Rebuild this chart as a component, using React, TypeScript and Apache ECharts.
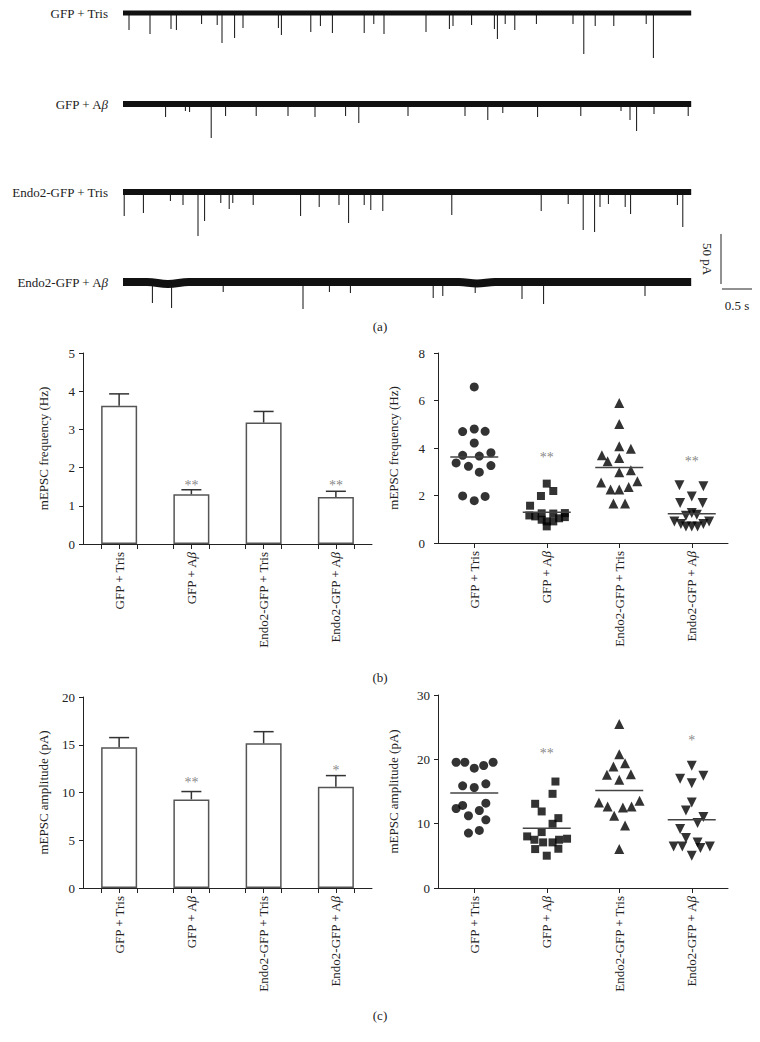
import React, { useEffect, useRef } from "react";
import * as echarts from "echarts";

const FONT = '"Liberation Serif", "Times New Roman", serif';

// ---------- data ----------
const groups = ["GFP + Tris", "GFP + Aβ", "Endo2-GFP + Tris", "Endo2-GFP + Aβ"];

// (a) traces: spikes as [time (s), amplitude (pA, downward)]
const traceDuration = 9.47;
const spikes1 = [[0.10,17],[0.45,21],[0.80,16],[0.89,17],[1.31,11],[1.57,12],[1.65,30],[1.86,25],[2.00,15],[2.59,15],[2.64,22],[3.13,19],[3.29,13],[3.49,20],[4.02,20],[4.18,11],[4.35,21],[5.05,19],[5.44,16],[5.50,13],[5.81,12],[6.19,16],[6.24,26],[6.37,11],[6.53,17],[6.89,11],[7.50,11],[7.68,41],[7.87,13],[8.18,13],[8.72,11],[8.84,45]];
const spikes2 = [[0.71,13],[1.04,7],[1.11,8],[1.47,34],[1.71,12],[2.22,12],[2.75,12],[3.20,13],[3.71,12],[3.93,19],[4.75,12],[5.70,12],[6.08,16],[6.33,9],[6.91,13],[7.63,12],[8.30,7],[8.45,16],[8.56,27],[8.85,10],[9.42,12]];
const spikes3 = [[0.02,24],[0.34,21],[0.79,9],[1.00,13],[1.25,44],[1.36,29],[1.63,11],[1.77,17],[1.83,11],[2.17,13],[2.96,24],[3.27,15],[3.60,13],[3.76,31],[4.02,13],[4.13,18],[4.33,19],[5.48,23],[6.97,19],[7.42,12],[7.67,38],[7.86,40],[7.95,15],[8.09,12],[8.37,15],[8.46,22],[9.24,13],[9.33,35]];
const spikes4 = [[0.49,21],[0.81,26],[1.67,10],[3.00,27],[3.44,10],[3.79,11],[5.17,16],[5.33,14],[5.87,11],[6.65,17],[7.01,22],[8.70,14]];
// baseline drift [time, pA]
const baseline1 = [[0,0],[9.47,0]];
const baseline2 = [[0,0],[9.47,0]];
const baseline3 = [[0,0],[9.47,0]];
const baseline4 = [[0,0],[0.4,0],[0.75,-2],[1.1,0],[5.6,0],[5.9,-1.5],[6.2,0],[9.47,0]];
const noiseWidth = [5, 6, 6, 8];
const scaleBarPA = 50;
const scaleBarS = 0.5;

// (b) frequency
const freqMean = [3.62, 1.30, 3.18, 1.23];
const freqSem = [0.31, 0.12, 0.29, 0.15];
const freqStars = ["", "**", "", "**"];
const freqStarBarY = [0, 1.63, 0, 1.63];
const freqStarDotY = [0, 3.75, 0, 3.58];
const freqG1 = [[0.50,6.57],[0.34,4.69],[0.50,4.80],[0.65,4.70],[0.50,4.21],[0.34,3.69],[0.57,3.66],[0.73,3.80],[0.25,3.37],[0.42,3.23],[0.73,3.26],[0.57,2.98],[0.34,1.98],[0.50,1.78],[0.65,1.96]];
const freqG2 = [[1.50,2.50],[1.59,2.19],[1.42,1.98],[1.27,1.57],[1.26,1.16],[1.34,1.12],[1.43,1.25],[1.43,0.98],[1.50,0.91],[1.50,0.70],[1.59,1.24],[1.59,0.91],[1.67,1.04],[1.75,1.26],[1.75,1.09]];
const freqG3 = [[2.50,5.89],[2.50,5.01],[2.50,4.07],[2.66,3.97],[2.26,3.69],[2.34,3.44],[2.50,3.58],[2.50,2.98],[2.66,3.06],[2.25,2.55],[2.75,2.60],[2.38,2.25],[2.50,2.25],[2.63,2.36],[2.42,1.66],[2.58,1.66]];
const freqG4 = [[3.33,2.43],[3.66,2.39],[3.50,1.96],[3.34,1.68],[3.65,1.68],[3.50,1.26],[3.57,1.19],[3.42,1.15],[3.26,0.91],[3.35,0.80],[3.42,0.70],[3.50,0.70],[3.58,0.70],[3.66,0.80],[3.74,0.91]];

// (c) amplitude
const ampMean = [14.75, 9.28, 15.15, 10.6];
const ampSem = [1.0, 0.82, 1.22, 1.17];
const ampStars = ["", "**", "", "*"];
const ampStarBarY = [0, 11.5, 0, 12.7];
const ampStarDotY = [0, 21.6, 0, 23.6];
const ampG1 = [[0.25,19.55],[0.37,19.55],[0.50,18.62],[0.63,19.04],[0.76,19.55],[0.34,15.88],[0.50,15.62],[0.66,16.19],[0.25,12.36],[0.34,12.83],[0.66,13.19],[0.42,11.23],[0.57,12.05],[0.66,10.60],[0.42,8.54],[0.57,8.95]];
const ampG2 = [[1.62,16.55],[1.58,14.64],[1.34,13.09],[1.43,11.90],[1.66,10.86],[1.58,9.98],[1.43,8.69],[1.23,8.02],[1.33,7.50],[1.45,7.09],[1.58,7.09],[1.67,7.50],[1.78,7.66],[1.34,6.05],[1.66,6.10],[1.50,5.02]];
const ampG3 = [[2.50,25.5],[2.50,20.8],[2.42,18.88],[2.58,19.4],[2.33,17.59],[2.66,17.69],[2.50,16.81],[2.22,13.29],[2.78,13.55],[2.34,12.67],[2.55,12.52],[2.67,12.67],[2.43,11.23],[2.58,9.73],[2.50,6.05]];
const ampG4 = [[3.50,19.0],[3.34,16.97],[3.50,16.3],[3.66,17.43],[3.50,13.29],[3.42,12.05],[3.66,11.02],[3.58,10.09],[3.34,9.16],[3.42,7.76],[3.25,6.47],[3.37,6.47],[3.58,7.09],[3.75,6.47],[3.62,6.21],[3.50,5.02]];

// ---------- layout ----------
const traceBaseY = [13, 104, 192, 282];
const traceLeft = 123;
const pxPerSec = 60;
const pxPerPA = 1;

const INK = "#222";
const rich = { i: { fontStyle: "italic", fontFamily: FONT, fontSize: 13, color: INK } };
const fmtGroup = (s: string) => s.replace("β", "{i|β}");

function App() {
  const ref = useRef<HTMLDivElement>(null);
  useEffect(() => {
    if (!ref.current) return;
    const chart = echarts.init(ref.current, null, { renderer: "svg" });

    const spikes = [spikes1, spikes2, spikes3, spikes4];
    const baselines = [baseline1, baseline2, baseline3, baseline4];

    const grids: any[] = traceBaseY.map((b) => ({
      left: traceLeft, top: b - 10, width: traceDuration * pxPerSec, height: 60,
    }));
    grids.push(
      { left: 83, top: 353, width: 289, height: 191 },
      { left: 438, top: 353, width: 290, height: 190 },
      { left: 83, top: 697, width: 289, height: 191 },
      { left: 438, top: 695, width: 290, height: 193 }
    );
    grids.forEach((g) => { g.containLabel = false; g.outerBoundsMode = "none"; });

    const xAxes: any[] = traceBaseY.map((_, i) => ({
      type: "value", gridIndex: i, min: 0, max: traceDuration, show: false,
    }));
    const yAxes: any[] = traceBaseY.map((_, i) => ({
      type: "value", gridIndex: i, min: -50, max: 10, show: false,
    }));

    const barTicks = [0.25, 0.5, 0.75, 1.25, 1.5, 1.75, 2.25, 2.5, 2.75, 3.25, 3.5, 3.75];
    const centers = [0.5, 1.5, 2.5, 3.5];
    const catX = (gi: number, ticks: number[]) => ({
      type: "value", gridIndex: gi, min: 0, max: 4,
      axisLine: { show: true, lineStyle: { color: INK, width: 1 } },
      axisTick: { show: true, customValues: ticks, length: 5, lineStyle: { color: INK, width: 1 } },
      axisLabel: {
        customValues: centers, rotate: 90, margin: 8, color: INK, fontFamily: FONT, fontSize: 13,
        formatter: (v: number) => fmtGroup(groups[Math.min(3, Math.floor(v))]), rich,
      },
      splitLine: { show: false },
    });
    const valY = (gi: number, max: number, interval: number, name: string, margin: number, gap: number) => ({
      type: "value", gridIndex: gi, min: 0, max, interval,
      axisLine: { show: true, lineStyle: { color: INK, width: 1 } },
      axisTick: { show: true, length: 4, lineStyle: { color: INK, width: 1 } },
      axisLabel: { margin, color: INK, fontFamily: FONT, fontSize: 13 },
      splitLine: { show: false },
      name, nameLocation: "middle", nameGap: gap,
      nameTextStyle: { color: INK, fontFamily: FONT, fontSize: 13 },
    });
    xAxes.push(catX(4, barTicks), catX(5, centers), catX(6, barTicks), catX(7, centers));
    yAxes.push(
      valY(4, 5, 1, "mEPSC frequency (Hz)", 8, 33),
      valY(5, 8, 2, "mEPSC frequency (Hz)", 13, 38),
      valY(6, 20, 5, "mEPSC amplitude (pA)", 8, 33),
      valY(7, 30, 10, "mEPSC amplitude (pA)", 8, 38)
    );

    const series: any[] = [];
    // traces
    baselines.forEach((bl, i) => {
      series.push({
        type: "line", xAxisIndex: i, yAxisIndex: i, data: bl, symbol: "none", silent: true,
        smooth: 0.4, lineStyle: { width: noiseWidth[i], color: "#111", join: "round" }, clip: false,
      });
      series.push({
        type: "custom", xAxisIndex: i, yAxisIndex: i, data: spikes[i], silent: true, clip: false,
        renderItem: (_p: any, api: any) => {
          const t = api.value(0), a = api.value(1);
          const p0 = api.coord([t, 0]);
          const p1 = api.coord([t, -a]);
          return { type: "line", shape: { x1: p0[0], y1: p0[1], x2: p1[0], y2: p1[1] }, style: { stroke: "#111", lineWidth: 1 } };
        },
      });
    });

    const barSet = (gi: number, mean: number[], sem: number[], stars: string[], starY: number[]) => {
      series.push({
        type: "bar", xAxisIndex: gi, yAxisIndex: gi, barWidth: 36, silent: true,
        data: mean.map((m, i) => [i + 0.5, m]),
        itemStyle: { color: "#fff", borderColor: "#555", borderWidth: 1.5 },
      });
      series.push({
        type: "custom", xAxisIndex: gi, yAxisIndex: gi, z: 4, silent: true,
        data: mean.map((m, i) => [i + 0.5, m, sem[i]]),
        renderItem: (_p: any, api: any) => {
          const x = api.value(0), m = api.value(1), s = api.value(2);
          const p0 = api.coord([x, m]);
          const p1 = api.coord([x, m + s]);
          const st = { stroke: "#333", lineWidth: 1.5 };
          return {
            type: "group", children: [
              { type: "line", shape: { x1: p0[0], y1: p0[1], x2: p1[0], y2: p1[1] }, style: st },
              { type: "line", shape: { x1: p1[0] - 10, y1: p1[1], x2: p1[0] + 10, y2: p1[1] }, style: st },
            ],
          };
        },
      });
      starSeries(gi, stars, starY);
    };
    const starSeries = (gi: number, stars: string[], starY: number[]) => {
      series.push({
        type: "scatter", xAxisIndex: gi, yAxisIndex: gi, silent: true, symbolSize: 1, z: 5,
        itemStyle: { color: "transparent" },
        data: stars.map((s, i) => [i + 0.5, starY[i], s]).filter((d) => d[2] !== ""),
        label: {
          show: true, position: "inside", offset: [0, 4], formatter: (p: any) => p.value[2],
          color: "#666", fontFamily: FONT, fontSize: 14,
        },
      });
    };
    const dotSet = (gi: number, pts: number[][][], mean: number[], stars: string[], starY: number[]) => {
      const sym = [
        { symbol: "circle", symbolSize: 9, symbolRotate: 0 },
        { symbol: "rect", symbolSize: 8, symbolRotate: 0 },
        { symbol: "triangle", symbolSize: 10, symbolRotate: 0 },
        { symbol: "triangle", symbolSize: 10, symbolRotate: 180 },
      ];
      pts.forEach((g, i) => {
        series.push({
          type: "scatter", xAxisIndex: gi, yAxisIndex: gi, data: g, silent: true,
          ...sym[i], itemStyle: { color: "#000" },
        });
      });
      series.push({
        type: "custom", xAxisIndex: gi, yAxisIndex: gi, z: 4, silent: true,
        data: mean.map((m, i) => [i + 0.5, m]),
        renderItem: (_p: any, api: any) => {
          const c = api.coord([api.value(0), api.value(1)]);
          return { type: "line", shape: { x1: c[0] - 24, y1: c[1], x2: c[0] + 24, y2: c[1] }, style: { stroke: "#444", lineWidth: 1.5 } };
        },
      });
      starSeries(gi, stars, starY);
    };

    barSet(4, freqMean, freqSem, freqStars, freqStarBarY);
    dotSet(5, [freqG1, freqG2, freqG3, freqG4], freqMean, freqStars, freqStarDotY);
    barSet(6, ampMean, ampSem, ampStars, ampStarBarY);
    dotSet(7, [ampG1, ampG2, ampG3, ampG4], ampMean, ampStars, ampStarDotY);

    const txt = (text: string, x: number, y: number, align: string, extra: any = {}) => ({
      type: "text", x, y, silent: true, ...extra,
      style: {
        text, fill: INK, font: `13px ${FONT}`, fontFamily: FONT, fontSize: 13,
        align, textAlign: align, verticalAlign: "middle", textVerticalAlign: "middle", rich,
      },
    });

    // scale bar geometry from trace scale
    const sbX = 721;
    const sbBottom = 284;
    const sbLen = scaleBarPA * pxPerPA;
    const hbY = 289;
    const hbLen = scaleBarS * pxPerSec;

    const graphic: any[] = [
      ...groups.map((g, i) => txt(fmtGroup(g), 108, traceBaseY[i], "right")),
      { type: "line", silent: true, shape: { x1: sbX, y1: sbBottom - sbLen, x2: sbX, y2: sbBottom }, style: { stroke: INK, lineWidth: 1 } },
      { type: "line", silent: true, shape: { x1: sbX + 1, y1: hbY, x2: sbX + 1 + hbLen, y2: hbY }, style: { stroke: INK, lineWidth: 1 } },
      txt("50 pA", 707, sbBottom - sbLen / 2, "center", { rotation: -Math.PI / 2 }),
      txt("0.5 s", sbX + 1 + hbLen / 2, 305, "center"),
      txt("(a)", 380, 326, "center"),
      txt("(b)", 380, 677, "center"),
      txt("(c)", 380, 1015, "center"),
    ];

    chart.setOption({
      animation: false,
      backgroundColor: "#fff",
      textStyle: { fontFamily: FONT },
      grid: grids,
      xAxis: xAxes,
      yAxis: yAxes,
      series,
      graphic,
    });
    return () => chart.dispose();
  }, []);
  return <div ref={ref} style={{ position: "fixed", left: 0, top: 0, width: 760, height: 1042, background: "#fff" }} />;
}

export default App;
